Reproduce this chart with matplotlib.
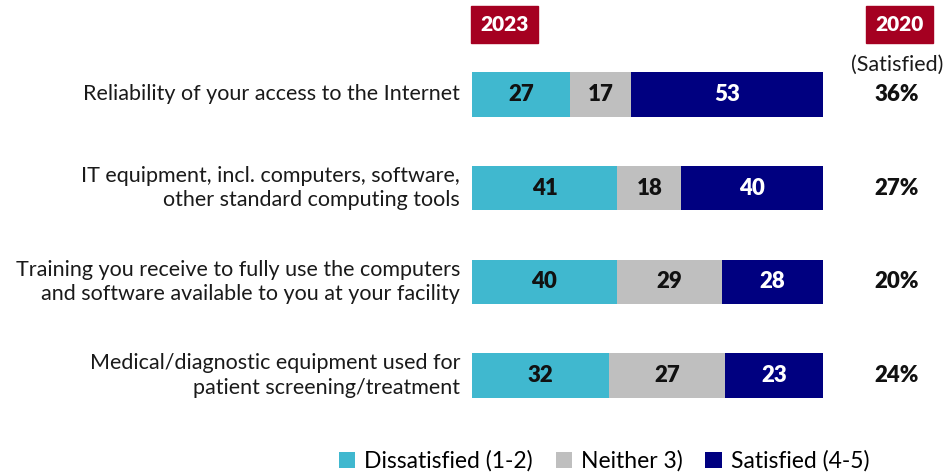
import matplotlib
matplotlib.use("Agg")
import matplotlib.pyplot as plt
from matplotlib.patches import Rectangle, Patch
import numpy as np

plt.rcParams['font.family'] = ['Lato', 'DejaVu Sans']

categories = [
    "Reliability of your access to the Internet",
    "IT equipment, incl. computers, software,\nother standard computing tools",
    "Training you receive to fully use the computers\nand software available to you at your facility",
    "Medical/diagnostic equipment used for\npatient screening/treatment",
]
dissatisfied = [27, 41, 40, 32]
neither = [17, 18, 29, 27]
satisfied = [53, 40, 28, 23]
satisfied_2020 = ["36%", "27%", "20%", "24%"]

series_names = ["Dissatisfied (1-2)", "Neither 3)", "Satisfied (4-5)"]
colors = ["#40B8CF", "#BFBFBF", "#000080"]
text_colors = ["#111111", "#111111", "#FFFFFF"]
badge_color = "#A50021"

W, H = 948, 472
fig = plt.figure(figsize=(W / 100, H / 100), dpi=100)

# bar area in pixel geometry
x0, x1 = 472, 823
y_top, y_bot = 47.65, 422.35
ax = fig.add_axes([x0 / W, 1 - y_bot / H, (x1 - x0) / W, (y_bot - y_top) / H])
ax.set_xlim(0, 100)
ax.set_ylim(3.5, -0.5)
ax.axis("off")

data = np.array([dissatisfied, neither, satisfied], dtype=float)
totals = data.sum(axis=0)
shares = data / totals * 100
ypos = np.arange(len(categories))

left = np.zeros(len(categories))
for k in range(3):
    ax.barh(ypos, shares[k], left=left, height=0.47, color=colors[k], edgecolor="none")
    for i in range(len(categories)):
        ax.text(left[i] + shares[k][i] / 2, ypos[i], f"{int(data[k][i])}",
                ha="center", va="center", fontsize=16, fontweight="heavy",
                color=text_colors[k])
    left += shares[k]

for i, lab in enumerate(categories):
    ax.text(-3.4, ypos[i], lab, ha="right", va="center", fontsize=15.5,
            color="#1a1a1a", linespacing=1.28)
    ax.text(121, ypos[i], satisfied_2020[i], ha="center", va="center",
            fontsize=16, fontweight="heavy", color="#111111")

ax.text(121, -0.32, "(Satisfied)", ha="center", va="center", fontsize=15.5,
        color="#1a1a1a", clip_on=False)

# year badges
for bx, label in [(471, "2023"), (866, "2020")]:
    fig.patches.append(Rectangle((bx / W, 1 - 43 / H), 67 / W, 37 / H,
                                 transform=fig.transFigure, color=badge_color))
    fig.text((bx + 33.5) / W, 1 - 24.5 / H, label, ha="center", va="center",
             fontsize=15, fontweight="heavy", color="white")

handles = [Patch(facecolor=c, edgecolor="none") for c in colors]
fig.legend(handles, series_names, loc="center", bbox_to_anchor=(604 / W, 1 - 461 / H),
           ncol=3, frameon=False, fontsize=16.5, handlelength=0.7, handleheight=0.7,
           handletextpad=0.4, columnspacing=1.0, borderaxespad=0)

fig.savefig("out.png", dpi=100, facecolor="white")
